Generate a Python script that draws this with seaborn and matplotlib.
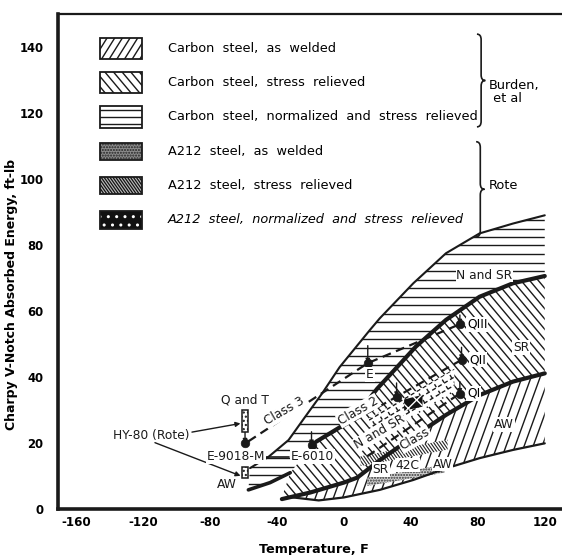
import numpy as np
import matplotlib
matplotlib.use("Agg")
import matplotlib.pyplot as plt
import seaborn as sns
from matplotlib.patches import Polygon, Rectangle, PathPatch
from matplotlib.collections import LineCollection
from matplotlib.path import Path

# ---------------- data (temperature in F, energy in ft-lb) ----------------
# carbon steel, normalized and stress relieved band
nsr_top_T = [-56, -45, -33, -23, -13, -2.5, 15.5, 21.5, 41.5, 61, 81, 101, 120]
nsr_top_E = [12.4, 15.8, 20.9, 28, 35, 43, 54.2, 57.8, 68.4, 77.5, 83.5, 86.5, 89]
nsr_bot_T = [-57, -44, -32, -24, -16.5, 0, 10, 20, 30, 43, 61, 81, 101, 120]
nsr_bot_E = [5.8, 8, 11, 16, 20.4, 25.5, 30, 36.5, 42, 49.2, 57.3, 64.3, 68.4, 70.6]
# carbon steel, stress relieved band
sr_top_T = [-37, -32, -24, -16.5, 0, 10, 20, 30, 43, 61, 81, 101, 120]
sr_top_E = [3.5, 11, 16, 20.4, 25.5, 30, 36.5, 42, 49.2, 57.3, 64.3, 68.4, 70.6]
sr_bot_T = [-37, -20, 0, 8, 21.5, 41.5, 61, 81, 101, 120]
sr_bot_E = [3, 5, 8, 9.5, 14.8, 21.9, 28.5, 34.5, 38.6, 41.1]
# carbon steel, as welded band (top follows the SR lower edge)
aw_bot_T = [-32, -15, 0, 21.5, 41.5, 61, 81, 101, 120]
aw_bot_E = [3.6, 2.6, 3.5, 5.8, 8.8, 12.3, 15.4, 17.9, 19.9]

# A212 steel bands (Rote)
a212_sr_T = [10, 36, 62]
a212_sr_lo = [13, 15.5, 18]
a212_sr_hi = [16, 18.5, 21]
a212_aw_T = [14, 37, 60]
a212_aw_lo = [7, 9, 11]
a212_aw_hi = [9.5, 11.3, 13.5]
a212_nsr_T = [15, 66]
a212_nsr_lo = [20, 35.5]
a212_nsr_hi = [27.5, 42.5]
a212_blob_T = [36, 47]
a212_blob_lo = [29.8, 31]
a212_blob_hi = [33.2, 34.6]

# weld-metal points
pt_names = ["E-9018-M", "E-6010", "E", "Q III", "Q II", "Q I", "A212 N+SR"]
pt_T = [-59, -19.3, 14.3, 69.3, 70.3, 69.3, 31.5]
pt_E = [19.9, 19.4, 44.2, 56, 45.2, 35, 34]
pt_top = [23.3, 23.4, 49.5, 58.8, 49, 38.6, 38.2]

# class trend lines
class3_T = [-57, 14.3, 69.3]
class3_E = [20.5, 44.2, 56]
class2_T = [-17, 31.5, 70.3]
class2_E = [20.2, 34, 45.2]
class1_T = [14, 69.3]
class1_E = [16, 35]

# HY-80 (Rote) ranges
hy_T = [-60.9, -57.3]
hy_qt_E = [23.3, 30]
hy_aw_E = [9.4, 12.7]

# legend
legend_labels = ["Carbon  steel,  as  welded",
                 "Carbon  steel,  stress  relieved",
                 "Carbon  steel,  normalized  and  stress  relieved",
                 "A212  steel,  as  welded",
                 "A212  steel,  stress  relieved",
                 "A212  steel,  normalized  and  stress  relieved"]
legend_italic = [False, False, False, False, False, True]
group_labels = ["Burden,\n et al", "Rote"]

x_ticks = [-160, -120, -80, -40, 0, 40, 80, 120]
y_ticks = [0, 20, 40, 60, 80, 100, 120, 140]

# ---------------- figure ----------------
sns.set_theme(style="white")
plt.rcParams["font.family"] = ["DejaVu Sans"]
plt.rcParams.update({"text.color": "black", "axes.labelcolor": "black",
                     "xtick.color": "black", "ytick.color": "black"})
fig = plt.figure(figsize=(5.62, 5.55), dpi=100)
ax = fig.add_axes([58 / 562, 46 / 555, 503 / 562, 495 / 555])
ax.set_xlim(-170.7, 129.7)
ax.set_ylim(0, 150)


def px_scale(a):
    bb = a.get_position()
    W = fig.get_figwidth() * fig.dpi * bb.width
    H = fig.get_figheight() * fig.dpi * bb.height
    x0, x1 = a.get_xlim()
    y0, y1 = a.get_ylim()
    return W / (x1 - x0), H / (y1 - y0), x0, y0


def hatch(xy, angle, spacing, lw=1.0, color="k", ls="-", z=2):
    """Parallel lines at a screen angle, clipped to a polygon in data space."""
    xy = np.asarray(xy, float)
    poly = Polygon(xy, closed=True, facecolor="none", edgecolor="none")
    ax.add_patch(poly)
    sx, sy, x0, y0 = px_scale(ax)
    px = (xy[:, 0] - x0) * sx
    py = (xy[:, 1] - y0) * sy
    a = np.deg2rad(angle)
    d = np.array([np.cos(a), np.sin(a)])
    n = np.array([-np.sin(a), np.cos(a)])
    pn = px * n[0] + py * n[1]
    pdd = px * d[0] + py * d[1]
    k0 = int(np.ceil(pn.min() / spacing))
    k1 = int(np.floor(pn.max() / spacing))
    segs = []
    for k in range(k0, k1 + 1):
        o = k * spacing
        p1 = o * n + (pdd.min() - 2) * d
        p2 = o * n + (pdd.max() + 2) * d
        segs.append([(p1[0] / sx + x0, p1[1] / sy + y0),
                     (p2[0] / sx + x0, p2[1] / sy + y0)])
    lc = LineCollection(segs, colors=color, linewidths=lw, linestyles=ls, zorder=z)
    ax.add_collection(lc)
    lc.set_clip_path(poly)
    return poly


def band(T_top, E_top, T_bot, E_bot):
    return list(zip(T_top, E_top)) + list(zip(T_bot, E_bot))[::-1]


# carbon steel bands
nsr_poly = band(nsr_top_T, nsr_top_E, nsr_bot_T, nsr_bot_E)
sr_poly = band(sr_top_T, sr_top_E, sr_bot_T, sr_bot_E)
aw_top = [(aw_bot_T[0], aw_bot_E[0])] + [(t, e) for t, e in zip(sr_bot_T, sr_bot_E) if t > aw_bot_T[0]]
aw_poly = aw_top + list(zip(aw_bot_T, aw_bot_E))[::-1]

hatch(nsr_poly, 0, 8.5)
hatch(sr_poly, 130, 6.6)
hatch(aw_poly, 70, 8.5)

# A212 bands
a212_sr_poly = band(a212_sr_T, a212_sr_hi, a212_sr_T, a212_sr_lo)
ax.add_patch(Polygon(a212_sr_poly, closed=True, facecolor="white", edgecolor="none", zorder=3))
hatch(a212_sr_poly, 125, 2.6, lw=0.8, color="#222222", z=3.5)
a212_aw_poly = band(a212_aw_T, a212_aw_hi, a212_aw_T, a212_aw_lo)
ax.add_patch(Polygon(a212_aw_poly, closed=True, facecolor="#d0d0d0", edgecolor="#333333",
                     hatch="......", lw=0, zorder=3))
a212_nsr_poly = band(a212_nsr_T, a212_nsr_hi, a212_nsr_T, a212_nsr_lo)
ax.add_patch(Polygon(a212_nsr_poly, closed=True, facecolor="white", edgecolor="none", zorder=2.5))
hatch(a212_nsr_poly, 31, 7, lw=1.0, ls=(0, (3, 2)), z=2.6)
hatch(a212_nsr_poly, 121, 9, lw=1.0, ls=(0, (2.5, 3)), z=2.6)
blob = band(a212_blob_T, a212_blob_hi, a212_blob_T, a212_blob_lo)
ax.add_patch(Polygon(blob, closed=True, facecolor="#111111", edgecolor="white", hatch="xx",
                     lw=0, zorder=3.6))

# band boundary curves
sns.lineplot(x=nsr_top_T, y=nsr_top_E, sort=False, color="k", lw=1.5, ax=ax, zorder=4)
sns.lineplot(x=nsr_bot_T[:3], y=nsr_bot_E[:3], sort=False, color="k", lw=2.6, ax=ax, zorder=4)
sns.lineplot(x=sr_top_T[3:], y=sr_top_E[3:], sort=False, color="k", lw=3.0, ax=ax, zorder=4)
sns.lineplot(x=sr_bot_T, y=sr_bot_E, sort=False, color="k", lw=3.0, ax=ax, zorder=4)
sns.lineplot(x=aw_bot_T, y=aw_bot_E, sort=False, color="k", lw=1.6, ax=ax, zorder=4)

# class trend lines
for cT, cE in [(class3_T, class3_E), (class2_T, class2_E), (class1_T, class1_E)]:
    ax.plot(cT, cE, color="k", lw=1.6, ls=(0, (4, 2.5)), zorder=5)

# weld-metal points with range markers
for t, e, top in zip(pt_T, pt_E, pt_top):
    ax.annotate("", xy=(t, e), xytext=(t, top),
                arrowprops=dict(arrowstyle="-|>", lw=1.0, color="k", mutation_scale=6,
                                shrinkA=0, shrinkB=0), zorder=6)
sns.scatterplot(x=pt_T, y=pt_E, color="k", s=38, edgecolor="k", ax=ax, zorder=7, legend=False)

# HY-80 boxes
for lo_hi in (hy_qt_E, hy_aw_E):
    ax.add_patch(Rectangle((hy_T[0], lo_hi[0]), hy_T[1] - hy_T[0], lo_hi[1] - lo_hi[0],
                           facecolor="white", edgecolor="k", lw=1.1, hatch="....", zorder=6))
ax.annotate("", xy=(hy_T[0], 26), xytext=(-90.7, 23.3),
            arrowprops=dict(arrowstyle="-|>", lw=1.0, color="k", mutation_scale=7, shrinkA=0, shrinkB=1))
ax.annotate("", xy=(hy_T[0], 9.9), xytext=(-112.8, 20.1),
            arrowprops=dict(arrowstyle="-|>", lw=1.0, color="k", mutation_scale=7, shrinkA=0, shrinkB=1))
ax.plot([-46.5, -33], [15.8, 15.8], color="k", lw=1.2, zorder=5)

# ---------------- labels ----------------
wb = dict(facecolor="white", edgecolor="none", pad=0.6)
lab = dict(fontsize=8.8, color="k", ha="center", va="center", zorder=8)
ax.text(-59, 33, "Q and T", **lab)
ax.text(-115, 22.4, "HY-80 (Rote)", **lab)
ax.text(-64.5, 15.8, "E-9018-M", bbox=wb, **lab)
ax.text(-18.8, 16.0, "E-6010", bbox=wb, **lab)
ax.text(-69.6, 7.3, "AW", **lab)
ax.text(-35.5, 29.6, "Class 3", rotation=30, bbox=wb, **lab)
ax.text(15.5, 40.8, "E", bbox=wb, **lab)
ax.text(8.6, 29.8, "Class 2", rotation=30, bbox=wb, **lab)
ax.text(21.5, 23.3, "N and SR", rotation=30, bbox=wb, **lab)
ax.text(42.4, 21.2, "Class", rotation=30, bbox=wb, **lab)
ax.text(22, 11.9, "SR", bbox=wb, **lab)
ax.text(38, 13.3, "42C", bbox=wb, **lab)
ax.text(59, 13.6, "AW", bbox=wb, **lab)
ax.text(84, 70.9, "N and SR", bbox=dict(facecolor="white", edgecolor="none", pad=0.2), **lab)
ax.text(106, 49, "SR", bbox=wb, **lab)
ax.text(95.5, 25.5, "AW", bbox=wb, **lab)
for t, e, s in [(73.5, 56, "QIII"), (75, 45.2, "QII"), (73.5, 35, "QI")]:
    ax.text(t, e, s, fontsize=8.8, ha="left", va="center", bbox=wb, zorder=8)

# ---------------- legend block ----------------
icon_x0, icon_x1 = -145.7, -120.8
text_x = -105.1
row_E = 139.6
row_step = 10.4
for i, (txt, it) in enumerate(zip(legend_labels, legend_italic)):
    yc = row_E - i * row_step
    h = 6.4 if i < 3 else 5.3
    rect = [(icon_x0, yc - h / 2), (icon_x1, yc - h / 2), (icon_x1, yc + h / 2), (icon_x0, yc + h / 2)]
    if i == 0:
        hatch(rect, 58, 6.5, lw=1.0)
    elif i == 1:
        hatch(rect, 130, 6.6, lw=1.0)
    elif i == 2:
        hatch(rect, 0, 7.0, lw=1.0)
    elif i == 3:
        ax.add_patch(Polygon(rect, closed=True, facecolor="#8c8c8c", edgecolor="#222222",
                             hatch="......", lw=0, zorder=2))
    elif i == 4:
        ax.add_patch(Polygon(rect, closed=True, facecolor="#bbbbbb", edgecolor="none", zorder=1.5))
        hatch(rect, 125, 2.4, lw=0.9, color="#111111")
    else:
        ax.add_patch(Polygon(rect, closed=True, facecolor="#111111", edgecolor="white",
                             hatch="..", lw=0, zorder=2))
    ax.add_patch(Polygon(rect, closed=True, facecolor="none", edgecolor="k", lw=1.3, zorder=3))
    ax.text(text_x, yc, txt, fontsize=9.3, ha="left", va="center",
            style="italic" if it else "normal")


def brace(x, y0, y1, w, lw=1.2):
    ym = (y0 + y1) / 2
    r = (y1 - y0) * 0.06
    verts = [(x, y1), (x + w / 2, y1), (x + w / 2, y1 - r),
             (x + w / 2, ym + r),
             (x + w / 2, ym), (x + w, ym),
             (x + w / 2, ym), (x + w / 2, ym - r),
             (x + w / 2, y0 + r),
             (x + w / 2, y0), (x, y0)]
    codes = [Path.MOVETO, Path.CURVE3, Path.CURVE3, Path.LINETO,
             Path.CURVE3, Path.CURVE3, Path.CURVE3, Path.CURVE3,
             Path.LINETO, Path.CURVE3, Path.CURVE3]
    ax.add_patch(PathPatch(Path(verts, codes), facecolor="none", edgecolor="k", lw=lw))


brace(79.5, 115.8, 143.9, 5.0)
brace(79.0, 82.5, 111.3, 5.0)
ax.text(86.5, 126.5, group_labels[0], fontsize=9.3, ha="left", va="center", linespacing=1.0)
ax.text(86.5, 97.9, group_labels[1], fontsize=9.3, ha="left", va="center")

# ---------------- axes styling ----------------
ax.set_xticks(x_ticks)
ax.set_xticklabels([str(v) for v in x_ticks], fontweight="bold", fontsize=8.6, color="black")
ax.set_yticks(y_ticks)
ax.set_yticklabels([str(v) for v in y_ticks], fontweight="bold", fontsize=8.4, color="black")
ax.tick_params(axis="both", direction="in", length=13, width=1.8, color="k")
ax.tick_params(axis="y", pad=10.5)
ax.tick_params(axis="x", pad=5)
for s in ("left", "bottom"):
    ax.spines[s].set_linewidth(2.6)
    ax.spines[s].set_color("k")
ax.spines["top"].set_linewidth(1.6)
ax.spines["top"].set_color("k")
ax.spines["right"].set_visible(False)
ax.set_xlabel("")
ax.set_ylabel("")
fig.text(314 / 562, 1 - 550 / 555, "Temperature, F", fontsize=9.2, fontweight="bold",
         ha="center", va="center", color="black")
fig.text(12 / 562, 1 - 294 / 555, "Charpy V-Notch Absorbed Energy, ft-lb", fontsize=9.0,
         fontweight="bold", rotation=90, ha="center", va="center", color="black")

fig.savefig("out.png", dpi=100)
